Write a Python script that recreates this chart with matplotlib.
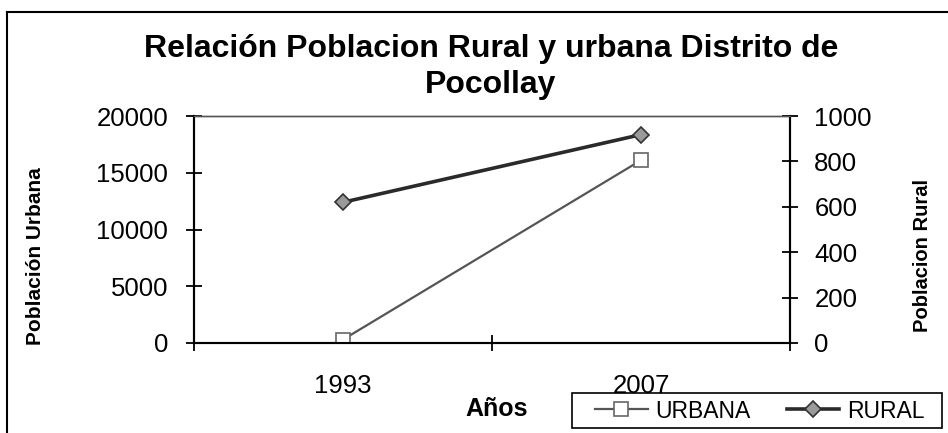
import matplotlib
matplotlib.use("Agg")
from matplotlib import pyplot as plt
from matplotlib.lines import Line2D
from matplotlib.patches import Rectangle
import numpy as np

plt.rcParams['font.family'] = ['Liberation Sans', 'DejaVu Sans']

# datos
anios = ['1993', '2007']
urbana = [300, 16100]    # eje izquierdo
rural = [620, 918]       # eje derecho

W, H = 948, 433
fig = plt.figure(figsize=(W / 100, H / 100), dpi=100)
fig.patch.set_facecolor('white')

# area de trazado (pixeles de la imagen)
x0, x1, ytop, ybot = 194, 790, 116, 343
ax = fig.add_axes([x0 / W, 1 - ybot / H, (x1 - x0) / W, (ybot - ytop) / H])
ax.set_facecolor('none')
ax2 = ax.twinx()

x = np.arange(len(anios))

l1, = ax.plot(x, urbana, color='#555555', lw=1.6, marker='s', ms=9.5,
              mfc='white', mec='#666666', mew=1.2, zorder=3)
l2, = ax2.plot(x, rural, color='#2a2a2a', lw=2.6, marker='D', ms=8,
               mfc='#9a9a9a', mec='#333333', mew=1.2, zorder=3)

ax.set_xlim(-0.5, len(anios) - 0.5)
ax.set_ylim(0, 20000)
ax2.set_ylim(0, 1000)
ax.set_yticks(np.arange(0, 20001, 5000))
ax2.set_yticks(np.arange(0, 1001, 200))

# marcas entre categorias, etiquetas en el centro
ax.set_xticks(np.arange(-0.5, len(anios), 1.0))
ax.set_xticklabels([])
ax.set_xticks(x, minor=True)
ax.set_xticklabels(anios, minor=True)
ax.tick_params(axis='x', which='major', direction='inout', length=11, width=1.3)
ax.tick_params(axis='x', which='minor', length=0, pad=22, labelsize=18.5)
ax.tick_params(axis='y', direction='inout', length=11, width=1.3, pad=13, labelsize=18.5)
ax2.tick_params(axis='y', direction='inout', length=11, width=1.3, pad=12, labelsize=18.5)

for a in (ax, ax2):
    for s in ('left', 'right', 'bottom'):
        a.spines[s].set_linewidth(1.5)
        a.spines[s].set_color('black')
    a.spines['top'].set_color('#555555')
    a.spines['top'].set_linewidth(1.0)

# titulo y rotulos
fig.text(491 / W, 1 - 67 / H, 'Relación Poblacion Rural y urbana Distrito de\nPocollay',
         ha='center', va='center', fontsize=23, fontweight='bold', linespacing=1.22)
fig.text(36 / W, 1 - 256 / H, 'Población Urbana', rotation=90, ha='center',
         va='center', fontsize=15, fontweight='bold')
fig.text(923 / W, 1 - 255 / H, 'Poblacion Rural', rotation=90, ha='center',
         va='center', fontsize=14.5, fontweight='bold')
fig.text(497 / W, 1 - 409 / H, 'Años', ha='center', va='center',
         fontsize=18, fontweight='bold')

# leyenda sin marco propio, el recuadro se dibuja aparte (debajo de las etiquetas)
fig.add_artist(Rectangle((572 / W, 1 - 428 / H), (942 - 572) / W, 35 / H,
                         transform=fig.transFigure, facecolor='none',
                         edgecolor='black', lw=1.2, zorder=-1))
leg = fig.legend([l1, l2], ['URBANA', 'RURAL'], loc='center left',
                 bbox_to_anchor=(595 / W, 1 - 411 / H), ncol=2, fontsize=16.5,
                 handlelength=2.3, handletextpad=0.35, columnspacing=1.55,
                 frameon=False, borderpad=0, borderaxespad=0)

# marco del grafico (solo se ve arriba y a la izquierda)
fig.add_artist(Line2D([7 / W, 7 / W], [0, 1 - 12 / H], transform=fig.transFigure,
                      color='black', lw=1.5))
fig.add_artist(Line2D([7 / W, 1], [1 - 12 / H, 1 - 12 / H], transform=fig.transFigure,
                      color='black', lw=1.5))

fig.savefig('out.png', dpi=100)
